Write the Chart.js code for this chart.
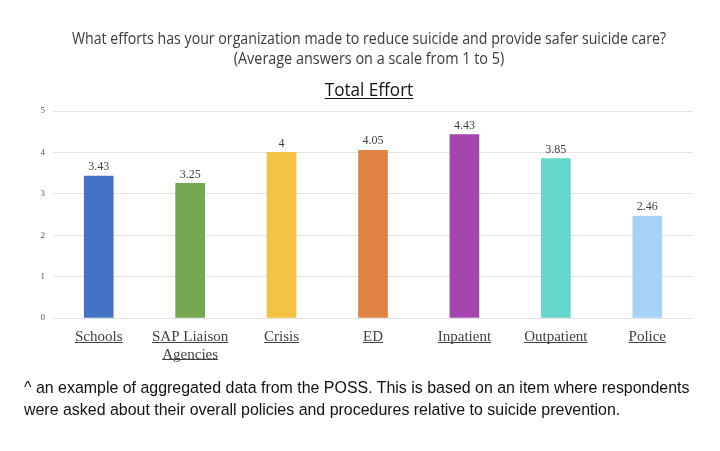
<!DOCTYPE html>
<html>
<head>
<meta charset="utf-8">
<script src="https://cdn.jsdelivr.net/npm/chart.js@4"></script>
<style>
  html, body { margin: 0; padding: 0; background: #fff; }
  #wrap { position: relative; width: 720px; height: 451px; overflow: hidden; }
  #chartBox { position: absolute; left: 0; top: 0; width: 720px; height: 451px; }
  .t { position: absolute; left: 9px; width: 720px; text-align: center; color: #3a3a3a; white-space: nowrap; }
  #t1 { top: 27px; font: 15.5px "Open Sans", sans-serif; transform: scaleX(0.914); }
  #t2 { top: 47px; font: 15.5px "Open Sans", sans-serif; transform: scaleX(0.93); }
  #t3 { top: 77px; font: 18px "Open Sans", sans-serif; color: #111; transform: scaleX(0.95); }
  #t3 span { text-decoration: underline; text-underline-offset: 2px; text-decoration-thickness: 1px; }
  .f { position: absolute; left: 24px; font: 15.95px "Liberation Sans", Arial, sans-serif; color: #111; white-space: nowrap; }
  #f1 { top: 379px; }
  #f2 { top: 401px; }
</style>
</head>
<body>
<div id="wrap">
  <div id="chartBox"><canvas id="c" width="720" height="451"></canvas></div>
  <div class="t" id="t1">What efforts has your organization made to reduce suicide and provide safer suicide care?</div>
  <div class="t" id="t2">(Average answers on a scale from 1 to 5)</div>
  <div class="t" id="t3"><span>Total Effort</span></div>
  <div class="f" id="f1">^ an example of aggregated data from the POSS. This is based on an item where respondents</div>
  <div class="f" id="f2">were asked about their overall policies and procedures relative to suicide prevention.</div>
</div>
<script>
const categories = [["Schools"], ["SAP Liaison", "Agencies"], ["Crisis"], ["ED"], ["Inpatient"], ["Outpatient"], ["Police"]];
const values = [3.43, 3.25, 4, 4.05, 4.43, 3.85, 2.46];
const valueLabels = ["3.43", "3.25", "4", "4.05", "4.43", "3.85", "2.46"];
const barColors = ["#4472C4", "#76A84F", "#F4C243", "#E08244", "#A445B0", "#65D6CB", "#A8D2F7"];
const yTicks = [0, 1, 2, 3, 4, 5];

const xFont = { family: '"Liberation Serif", "Times New Roman", serif', size: 15 };
const xLineHeight = 1.1;
const xPad = 10;

const decorPlugin = {
  id: 'decor',
  afterDatasetsDraw(chart) {
    const ctx = chart.ctx;
    const meta = chart.getDatasetMeta(0);
    ctx.save();
    ctx.font = '12px "Liberation Serif", "Times New Roman", serif';
    ctx.fillStyle = '#404040';
    ctx.textAlign = 'center';
    ctx.textBaseline = 'bottom';
    meta.data.forEach((bar, i) => {
      ctx.fillText(valueLabels[i], bar.x, bar.y - 3);
    });
    ctx.restore();
  },
  afterDraw(chart) {
    const ctx = chart.ctx;
    const xs = chart.scales.x;
    ctx.save();
    ctx.font = xFont.size + 'px ' + xFont.family;
    ctx.strokeStyle = '#404040';
    ctx.lineWidth = 1;
    categories.forEach((lines, i) => {
      const cx = xs.getPixelForTick(i);
      lines.forEach((ln, j) => {
        const w = ctx.measureText(ln).width;
        const y = Math.round(xs.top + xPad + j * xFont.size * xLineHeight + 14) + 0.5;
        ctx.beginPath();
        ctx.moveTo(cx - w / 2, y);
        ctx.lineTo(cx + w / 2, y);
        ctx.stroke();
      });
    });
    ctx.restore();
  }
};

new Chart(document.getElementById('c'), {
  type: 'bar',
  data: {
    labels: categories,
    datasets: [{
      data: values,
      backgroundColor: barColors,
      borderWidth: 0,
      barThickness: 29
    }]
  },
  options: {
    responsive: false,
    animation: false,
    devicePixelRatio: 1,
    layout: { padding: { left: 30, right: 27, top: 111, bottom: 83 } },
    plugins: { legend: { display: false }, tooltip: { enabled: false }, title: { display: false } },
    scales: {
      x: {
        grid: { display: false, drawTicks: false },
        border: { display: false },
        afterFit(s) { s.height = 50; },
        ticks: { color: '#404040', font: xFont, padding: xPad, maxRotation: 0, autoSkip: false }
      },
      y: {
        min: 0, max: 5,
        afterFit(s) { s.width = 23; },
        afterBuildTicks(s) { s.ticks = yTicks.map(v => ({ value: v })); },
        grid: { color: '#E3E3E3', drawTicks: false, lineWidth: 1 },
        border: { display: false },
        ticks: { color: '#555', font: { family: '"Liberation Serif", "Times New Roman", serif', size: 9 }, padding: 8 }
      }
    }
  },
  plugins: [decorPlugin]
});
</script>
</body>
</html>
